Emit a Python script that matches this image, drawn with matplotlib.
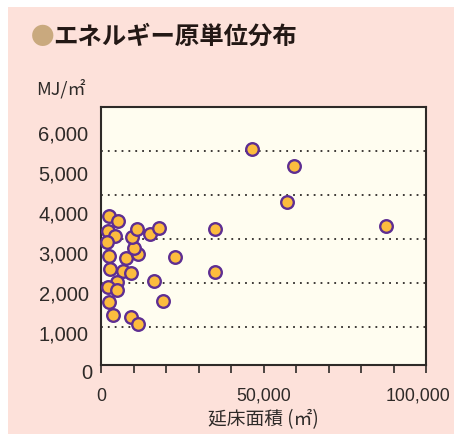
import matplotlib
matplotlib.use("Agg")
import matplotlib.pyplot as plt
from matplotlib.ticker import FixedLocator, FuncFormatter
import matplotlib.transforms as mtransforms

plt.rcParams['font.family'] = ['Liberation Sans', 'Noto Sans CJK JP', 'DejaVu Sans']

# Floor area (m²) and energy intensity (MJ/m²) per building
floor_area = [
    2550, 5130, 2250, 4310, 1950, 2460, 7590, 11280, 10250, 9630,
    11170, 14980, 17750, 2860, 6860, 9140, 5020, 2250, 5020, 16310,
    2460, 19170, 3600, 9140, 11480, 22870, 34980, 34980, 46460, 59290,
    57130, 87600,
]
energy_intensity = [
    3520, 3410, 3180, 3060, 2930, 2610, 2570, 2650, 2800, 3045,
    3220, 3115, 3250, 2310, 2265, 2225, 2025, 1910, 1825, 2030,
    1555, 1580, 1265, 1220, 1060, 2580, 3215, 2250, 5040, 4645,
    3830, 3280,
]

grid_values = [1000, 2000, 3000, 4000, 5000]
y_tick_values = [1000, 2000, 3000, 4000, 5000, 6000]
y_zero = 0
x_tick_values = list(range(0, 100001, 10000))
x_labeled = [0, 50000, 100000]

title = "エネルギー原単位分布"
y_unit = "MJ/㎡"
x_title = "延床面積 (㎡)"

PINK = "#FDE1DA"
CREAM = "#FFFDF0"
DARK = "#2E2A28"


def to_scale(g):
    return 1.1 * g + 60


def from_scale(l):
    return (l - 60) / 1.1


fig = plt.figure(figsize=(4.54, 4.34), dpi=100)
fig.patch.set_facecolor("white")

# pink panel behind the chart
panel = plt.Rectangle((8 / 454, 0), 446 / 454, 427 / 434,
                      transform=fig.transFigure, facecolor=PINK,
                      edgecolor="none", zorder=-10)
fig.patches.append(panel)

ax = fig.add_axes([101 / 454, 69 / 434, 325 / 454, 258.3 / 434])
ax.set_facecolor(CREAM)
ax.set_xlim(0, 100000)
ax.set_ylim(130, 6000)

for v in grid_values:
    ax.axhline(v, color=DARK, lw=1.3, linestyle=(0, (1, 2.8)), zorder=1)

ax.scatter(floor_area, energy_intensity, s=82, facecolor="#FCBC3E",
           edgecolor="#5E2E92", linewidth=1.7, zorder=3, clip_on=False)

for sp in ax.spines.values():
    sp.set_color(DARK)
    sp.set_linewidth(1.5)

ax.xaxis.set_major_locator(FixedLocator(x_tick_values))
ax.xaxis.set_major_formatter(FuncFormatter(
    lambda v, p: f"{int(v):,}" if int(v) in x_labeled else ""))
ax.tick_params(axis="x", direction="out", length=5.5, width=1.2, color=DARK,
               labelsize=12.8, labelcolor=DARK, pad=11)
ax.set_yticks([])

# nudge the last x label inward so it stays inside the panel
for lab in ax.get_xticklabels():
    if lab.get_text() == "100,000":
        lab.set_transform(lab.get_transform() +
                          mtransforms.ScaledTranslation(-8 / 100, 0, fig.dpi_scale_trans))

# value scale printed along the left edge
sec = ax.secondary_yaxis("left", functions=(to_scale, from_scale))
sec.set_yticks(y_tick_values)
sec.yaxis.set_major_formatter(FuncFormatter(lambda v, p: f"{int(v):,}"))
sec.tick_params(length=0, labelsize=14.5, labelcolor=DARK, pad=9)
sec.spines["left"].set_visible(False)

# the zero label sits below the frame, outside the secondary axis range
ax.text(-9 / 325, from_scale(y_zero), f"{y_zero}", transform=ax.get_yaxis_transform(),
        ha="right", va="center", fontsize=14.5, color=DARK, clip_on=False)

ax.set_xlabel(x_title, fontsize=13.5, color=DARK, labelpad=3,
              family=["Noto Sans CJK JP"])

fig.text(36 / 454, 1 - 89 / 434, y_unit, fontsize=13, color=DARK,
         va="center", ha="left", family=["Noto Sans CJK JP", "DejaVu Sans"])

fig.text(31 / 454, 1 - 37 / 434, "●", fontsize=17, color="#C9A97E",
         va="center", ha="left", family=["Noto Sans CJK JP"])
fig.text(53 / 454, 1 - 37 / 434, title, fontsize=17.6, color="#231815",
         va="center", ha="left", weight="bold", family=["Noto Sans CJK JP"])

fig.savefig("out.png", dpi=100, facecolor=fig.get_facecolor())
